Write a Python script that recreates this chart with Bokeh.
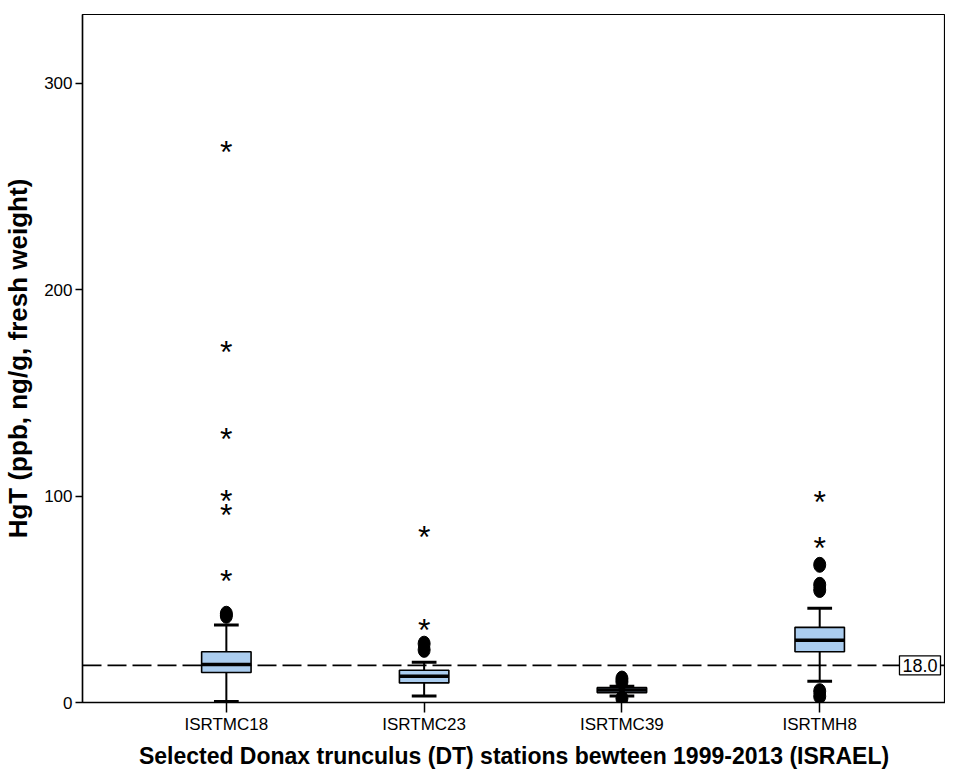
import numpy as np
from bokeh.plotting import figure
from bokeh.models import Range1d, FixedTicker, Span, Label, ColumnDataSource
from bokeh.core.properties import value
from bokeh.embed import file_html
from bokeh.resources import INLINE

# ---------------- data ----------------
stations = ["ISRTMC18", "ISRTMC23", "ISRTMC39", "ISRTMH8"]
q1 = [14.5, 9.5, 4.8, 24.6]
median = [18.4, 12.7, 6.0, 30.1]
q3 = [24.6, 15.6, 7.2, 36.4]
whisker_low = [0.5, 3.2, 3.2, 10.3]
whisker_high = [37.5, 19.5, 7.9, 45.6]

# outliers (circles)
circle_station = ["ISRTMC18", "ISRTMC18", "ISRTMC23", "ISRTMC23",
                  "ISRTMC39", "ISRTMC39", "ISRTMC39",
                  "ISRTMH8", "ISRTMH8", "ISRTMH8", "ISRTMH8", "ISRTMH8"]
circle_value = [43.0, 42.0, 28.5, 25.5,
                11.6, 10.0, 2.0,
                66.7, 57.0, 54.5, 5.5, 3.0]

# extreme outliers (stars)
star_station = ["ISRTMC18", "ISRTMC18", "ISRTMC18", "ISRTMC18", "ISRTMC18", "ISRTMC18",
                "ISRTMC23", "ISRTMC23", "ISRTMH8", "ISRTMH8"]
star_value = [268.6, 171.5, 129.5, 99.5, 93.0, 61.0,
              82.1, 36.9, 99.2, 76.8]

y_ticks = [0, 100, 200, 300]
ref_value = 18.0
ref_label = "18.0"

y_title = "HgT (ppb, ng/g, fresh weight)"
x_title = "Selected Donax trunculus (DT) stations bewteen 1999-2013 (ISRAEL)"

# ---------------- layout ----------------
pos = {s: i + 1 for i, s in enumerate(stations)}
xs = np.array([pos[s] for s in stations], dtype=float)
box_w = 0.25
cap_w = 0.125
X_START, X_END = 0.2727, 4.636

FONT = "Liberation Sans"

p = figure(width=945, height=771,
           x_range=Range1d(X_START, X_END), y_range=Range1d(0, 333.3),
           output_backend="svg", toolbar_location=None,
           min_border_left=81, min_border_top=14, min_border_bottom=66,
           min_border_right=0)
p.xgrid.visible = False
p.ygrid.visible = False
p.outline_line_color = "black"
p.outline_line_width = 1.2
p.background_fill_color = "white"
p.border_fill_color = "white"

# reference line
p.add_layout(Span(location=ref_value, dimension="width", line_color="black",
                  line_width=1.6, line_dash="19 6", level="underlay"))

# whiskers
p.segment(x0=xs, y0=q3, x1=xs, y1=whisker_high, line_color="black", line_width=2)
p.segment(x0=xs, y0=q1, x1=xs, y1=whisker_low, line_color="black", line_width=2)
p.segment(x0=xs - cap_w / 2, y0=whisker_high, x1=xs + cap_w / 2, y1=whisker_high,
          line_color="black", line_width=3)
p.segment(x0=xs - cap_w / 2, y0=whisker_low, x1=xs + cap_w / 2, y1=whisker_low,
          line_color="black", line_width=3)

# boxes
p.vbar(x=xs, width=box_w, bottom=q1, top=q3, fill_color="#abcdef",
       line_color="black", line_width=1.6)
p.segment(x0=xs - box_w / 2, y0=median, x1=xs + box_w / 2, y1=median,
          line_color="black", line_width=3.5)

# outliers
csrc = ColumnDataSource(dict(x=[pos[s] for s in circle_station], y=circle_value))
p.ellipse(x="x", y="y", width=12, height=15, width_units="screen",
          height_units="screen", fill_color="black", line_color="black", source=csrc)

ssrc = ColumnDataSource(dict(x=[pos[s] for s in star_station], y=star_value,
                             t=["*"] * len(star_value)))
p.text(x="x", y="y", text="t", source=ssrc, text_font=value(FONT),
       text_font_size="32px", text_align="center", text_baseline="middle",
       y_offset=4, text_color="black")

# reference label (kept fully inside the plot)
p.add_layout(Label(x=X_END, y=ref_value, text=ref_label, text_font=FONT,
                   text_font_size="18px", text_baseline="middle", text_align="right",
                   x_offset=-5, text_color="black",
                   border_line_color="black", border_line_width=1.3,
                   background_fill_color="white", padding=3))

# axes
p.xaxis.ticker = FixedTicker(ticks=list(xs))
p.xaxis.major_label_overrides = {int(pos[s]): s for s in stations}
p.xaxis.minor_tick_line_color = None
p.xaxis.major_tick_in = 0
p.xaxis.major_tick_out = 10
p.xaxis.major_tick_line_width = 1.5
p.xaxis.axis_line_width = 1.5
p.xaxis.major_label_text_font = FONT
p.xaxis.major_label_text_font_size = "17px"
p.xaxis.major_label_text_color = "black"
p.xaxis.major_label_standoff = 2
p.xaxis.axis_label = x_title
p.xaxis.axis_label_text_font = FONT
p.xaxis.axis_label_text_font_style = "bold"
p.xaxis.axis_label_text_font_size = "23px"
p.xaxis.axis_label_text_color = "black"
p.xaxis.axis_label_standoff = 6

p.yaxis.ticker = FixedTicker(ticks=y_ticks)
p.yaxis.minor_tick_line_color = None
p.yaxis.major_tick_in = 0
p.yaxis.major_tick_out = 7
p.yaxis.major_tick_line_width = 1.5
p.yaxis.axis_line_width = 1.5
p.yaxis.major_label_text_font = FONT
p.yaxis.major_label_text_font_size = "17px"
p.yaxis.major_label_text_color = "black"
p.yaxis.major_label_standoff = 3
p.yaxis.axis_label = y_title
p.yaxis.axis_label_text_font = FONT
p.yaxis.axis_label_text_font_style = "bold"
p.yaxis.axis_label_text_font_size = "26px"
p.yaxis.axis_label_text_color = "black"
p.yaxis.axis_label_standoff = 8

open("out.html", "w").write(file_html(p, INLINE))
